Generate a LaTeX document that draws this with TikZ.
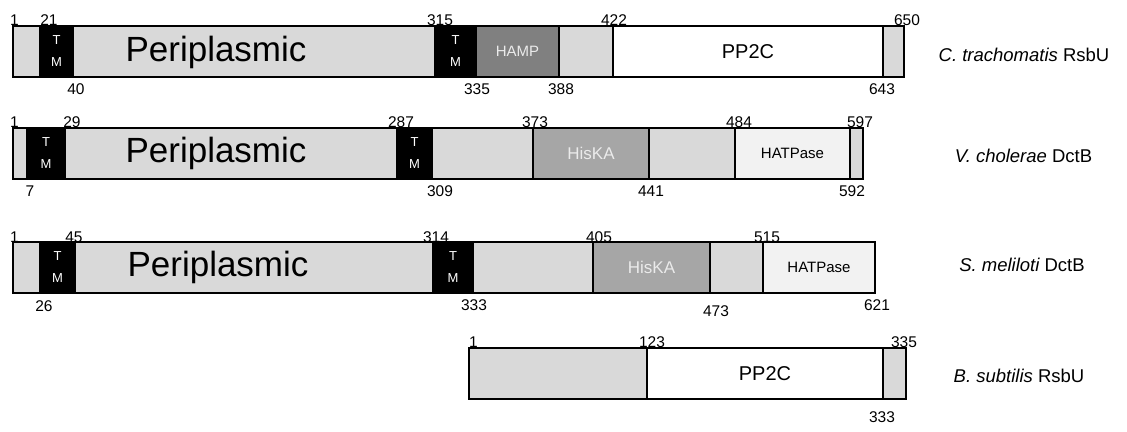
\documentclass[tikz,border=0pt]{standalone}
\usepackage{fontspec}
\setmainfont{Liberation Sans}
\definecolor{segg}{HTML}{D9D9D9}
\definecolor{hampc}{HTML}{808080}
\definecolor{hiskac}{HTML}{A6A6A6}
\definecolor{hatc}{HTML}{F2F2F2}
\definecolor{lighttxt}{HTML}{EBEBEB}
\begin{document}
\begin{tikzpicture}[x=1pt,y=-1pt,
  seg/.style={draw=black, line width=2.6pt, inner sep=0pt, outer sep=0pt,
    minimum height=51pt, anchor=west, fill=segg},
  tmseg/.style={seg, fill=black, text=white, align=center,
    font=\fontsize{13}{22}\selectfont},
  hampseg/.style={seg, fill=hampc, text=lighttxt, font=\fontsize{15}{18}\selectfont},
  hisseg/.style={seg, fill=hiskac, text=lighttxt, font=\fontsize{17}{20}\selectfont},
  hatseg/.style={seg, fill=hatc, font=\fontsize{15}{18}\selectfont},
  ppseg/.style={seg, fill=white, font=\fontsize{20}{24}\selectfont},
  num/.style={inner sep=0pt, font=\fontsize{15.5}{18}\selectfont},
  peri/.style={inner sep=0pt, font=\fontsize{35}{40}\selectfont},
  species/.style={inner sep=0pt, font=\fontsize{18.5}{22}\selectfont},
]
\useasboundingbox (0,0) rectangle (1127,431);
\fill[white] (0,0) rectangle (1127,431);

% ---------- Row 1: C. trachomatis RsbU ----------
\node[seg, minimum width=27pt] (a1) at (13,51.5) {};
\node[tmseg, minimum width=33pt] (a2) at (40,51.5) {T\\M};
\node[seg, minimum width=362pt] (a3) at (73,51.5) {};
\node[tmseg, minimum width=41pt] (a4) at (435,51.5) {T\\M};
\node[hampseg, minimum width=83pt] (a5) at (476,51.5) {HAMP};
\node[seg, minimum width=54pt] (a6) at (559,51.5) {};
\node[ppseg, minimum width=270pt] (a7) at (613,51.5) {PP2C};
\node[seg, minimum width=21pt] (a8) at (883,51.5) {};
\node[peri] (ap) at (216,52) {Periplasmic};
\node[species] (as) at (1024,55) {\itshape C. trachomatis\upshape{} RsbU};
\node[num] (at1) at (14.5,20) {1};
\node[num] (at2) at (49,20) {21};
\node[num] (at3) at (440,20) {315};
\node[num] (at4) at (614,20) {422};
\node[num] (at5) at (907,20) {650};
\node[num] (ab1) at (76,89) {40};
\node[num] (ab2) at (477,89) {335};
\node[num] (ab3) at (561,89) {388};
\node[num] (ab4) at (882,89) {643};

% ---------- Row 2: V. cholerae DctB ----------
\node[seg, minimum width=14pt] (b1) at (13,153.5) {};
\node[tmseg, minimum width=38pt] (b2) at (27,153.5) {T\\M};
\node[seg, minimum width=332pt] (b3) at (65,153.5) {};
\node[tmseg, minimum width=35pt] (b4) at (397,153.5) {T\\M};
\node[seg, minimum width=101pt] (b5) at (432,153.5) {};
\node[hisseg, minimum width=116pt] (b6) at (533,153.5) {HisKA};
\node[seg, minimum width=86pt] (b7) at (649,153.5) {};
\node[hatseg, minimum width=115pt] (b8) at (735,153.5) {HATPase};
\node[seg, minimum width=13pt] (b9) at (850,153.5) {};
\node[peri] (bp) at (216,153) {Periplasmic};
\node[species] (bs) at (1023.5,155.5) {\itshape V. cholerae\upshape{} DctB};
\node[num] (bt1) at (14.5,122.5) {1};
\node[num] (bt2) at (72,122.5) {29};
\node[num] (bt3) at (401,122.5) {287};
\node[num] (bt4) at (535,122.5) {373};
\node[num] (bt5) at (739,122.5) {484};
\node[num] (bt6) at (860,122.5) {597};
\node[num] (bb1) at (30,191.5) {7};
\node[num] (bb2) at (440,191.5) {309};
\node[num] (bb3) at (651,191.5) {441};
\node[num] (bb4) at (852,191.5) {592};

% ---------- Row 3: S. meliloti DctB ----------
\node[seg, minimum width=27pt] (c1) at (13,267.5) {};
\node[tmseg, minimum width=35pt] (c2) at (40,267.5) {T\\M};
\node[seg, minimum width=358pt] (c3) at (75,267.5) {};
\node[tmseg, minimum width=40pt] (c4) at (433,267.5) {T\\M};
\node[seg, minimum width=120pt] (c5) at (473,267.5) {};
\node[hisseg, minimum width=117pt] (c6) at (593,267.5) {HisKA};
\node[seg, minimum width=53pt] (c7) at (710,267.5) {};
\node[hatseg, minimum width=112pt] (c8) at (763,267.5) {HATPase};
\node[peri] (cp) at (218,267) {Periplasmic};
\node[species] (cs) at (1022,264.5) {\itshape S. meliloti\upshape{} DctB};
\node[num] (ct1) at (14.5,237) {1};
\node[num] (ct2) at (74,237) {45};
\node[num] (ct3) at (436,237) {314};
\node[num] (ct4) at (599,237) {405};
\node[num] (ct5) at (767,237) {515};
\node[num] (cb1) at (44,306) {26};
\node[num] (cb2) at (474,305) {333};
\node[num] (cb3) at (716,311.5) {473};
\node[num] (cb4) at (877,305) {621};

% ---------- Row 4: B. subtilis RsbU ----------
\node[seg, minimum width=178pt] (d1) at (469,373.5) {};
\node[ppseg, minimum width=236pt] (d2) at (647,373.5) {PP2C};
\node[seg, minimum width=23pt] (d3) at (883,373.5) {};
\node[species] (ds) at (1019,375.5) {\itshape B. subtilis\upshape{} RsbU};
\node[num] (dt1) at (473.5,342.5) {1};
\node[num] (dt2) at (652,342.5) {123};
\node[num] (dt3) at (904,342.5) {335};
\node[num] (db1) at (882,417.5) {333};
\end{tikzpicture}
\end{document}
